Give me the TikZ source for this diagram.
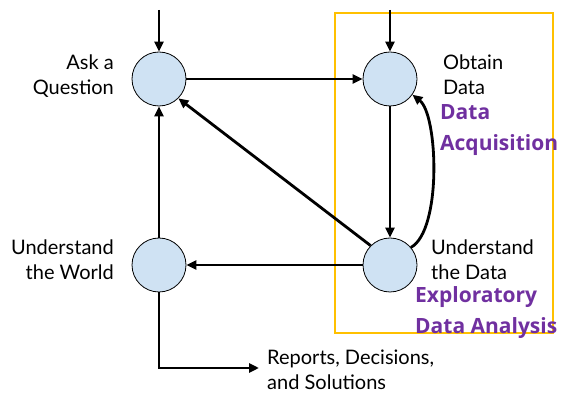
\documentclass[tikz,border=0pt]{standalone}
\usepackage{fontspec}
\setmainfont{Lato}
\newfontfamily\boldfam{Open Sans}
\usetikzlibrary{arrows.meta}
\definecolor{circfill}{HTML}{CFE2F3}
\definecolor{boxyellow}{HTML}{FFC000}
\definecolor{labpurple}{HTML}{7030A0}
\begin{document}
\begin{tikzpicture}[x=1pt,y=-1pt,
  stage/.style={circle,draw=black,line width=0.8pt,fill=circfill,minimum size=54pt,inner sep=0pt},
  conn/.style={line width=2.8pt,-{Triangle[length=10pt,width=9pt]}},
  lab/.style={inner sep=0pt,font=\fontsize{20}{24.5}\selectfont},
  plab/.style={inner sep=0pt,text=labpurple,font=\boldfam\bfseries\fontsize{21}{31}\selectfont,align=left}
]
\useasboundingbox (0,0) rectangle (568,411);
\draw[boxyellow,line width=2.8pt] (335,13) rectangle (553,333);
\node[stage] (ask) at (159,79) {};
\node[stage] (obt) at (390,79) {};
\node[stage] (und) at (390,265) {};
\node[stage] (wor) at (159,265) {};
\coordinate (askin) at (159,10);
\coordinate (obtin) at (390,10);
\coordinate (corner) at (159,368);
\coordinate (rep) at (259,368);
\draw[conn] (askin) -- (ask);
\draw[conn] (obtin) -- (obt);
\draw[conn] (ask) -- (obt);
\draw[conn] (obt) -- (und);
\draw[conn] (und) -- (wor);
\draw[conn] (wor) -- (ask);
\draw[conn] (und.north west) -- (ask.south east);
\draw[conn] (und.40) .. controls (442,230) and (438,115) .. (obt.-35);
\draw[conn] (wor) -- (corner) -- (rep);
\node[lab,anchor=north east,align=right] (askl) at (114,55) {Ask a\\Question};
\node[lab,anchor=north west,align=left] (obtl) at (443,55) {Obtain\\Data};
\node[lab,anchor=north west,align=left] (undl) at (431,240) {Understand\\the Data};
\node[lab,anchor=north east,align=right] (worl) at (114,240) {Understand\\the World};
\node[lab,anchor=north west,align=left] (repl) at (267,350) {Reports, Decisions,\\and Solutions};
\node[plab,anchor=north west] (acq) at (440,104) {Data\\Acquisition};
\node[plab,anchor=north west] (eda) at (415,286) {Exploratory\\Data Analysis};
\end{tikzpicture}
\end{document}
